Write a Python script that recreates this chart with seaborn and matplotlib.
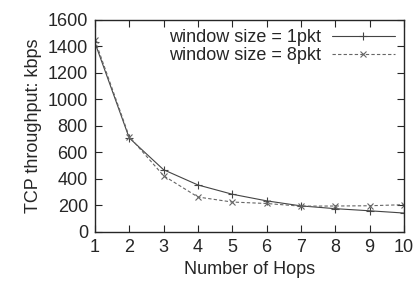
import matplotlib.pyplot as plt
import seaborn as sns

# Data
hops = [1, 2, 3, 4, 5, 6, 7, 8, 9, 10]
win_1pkt = [1430, 710, 470, 355, 285, 235, 197, 176, 160, 143]
win_8pkt = [1450, 720, 425, 264, 226, 215, 195, 196, 198, 206]
labels = ['window size = 1pkt', 'window size = 8pkt']
colors = ['#444444', '#666666']

sns.set_style('ticks')
plt.rcParams['font.family'] = ['Liberation Sans', 'DejaVu Sans']

fig, ax = plt.subplots(figsize=(4.16, 2.85), dpi=100)
# gnuplot-like look: solid with + marks, dashed with x marks
# (seaborn makes marker edges white by default, so give them the line colour)
sns.lineplot(x=hops, y=win_1pkt, label=labels[0], color=colors[0],
             linestyle='-', marker='+', markersize=6, linewidth=0.8,
             markeredgewidth=0.8, markeredgecolor=colors[0], ax=ax)
sns.lineplot(x=hops, y=win_8pkt, label=labels[1], color=colors[1],
             linestyle=(0, (3, 2)), marker='x', markersize=5, linewidth=0.8,
             markeredgewidth=0.8, markeredgecolor=colors[1], ax=ax)

ax.set_xlim(1, 10)
ax.set_ylim(0, 1600)
ax.set_xticks(hops)
ax.set_yticks(range(0, 1601, 200))
ax.tick_params(direction='in', top=True, right=True, labelsize=13, length=5,
               pad=5)
ax.set_xlabel('Number of Hops', fontsize=13)
ax.set_ylabel('TCP throughput: kbps', fontsize=13)
for s in ax.spines.values():
    s.set_linewidth(1.0)

ax.legend(loc='upper right', frameon=False, markerfirst=False, fontsize=13,
          handlelength=3.5, borderaxespad=0.1, labelspacing=0.05,
          handletextpad=0.6)

fig.subplots_adjust(left=0.228, right=0.971, bottom=0.186, top=0.93)
fig.savefig('out.png', dpi=100)
